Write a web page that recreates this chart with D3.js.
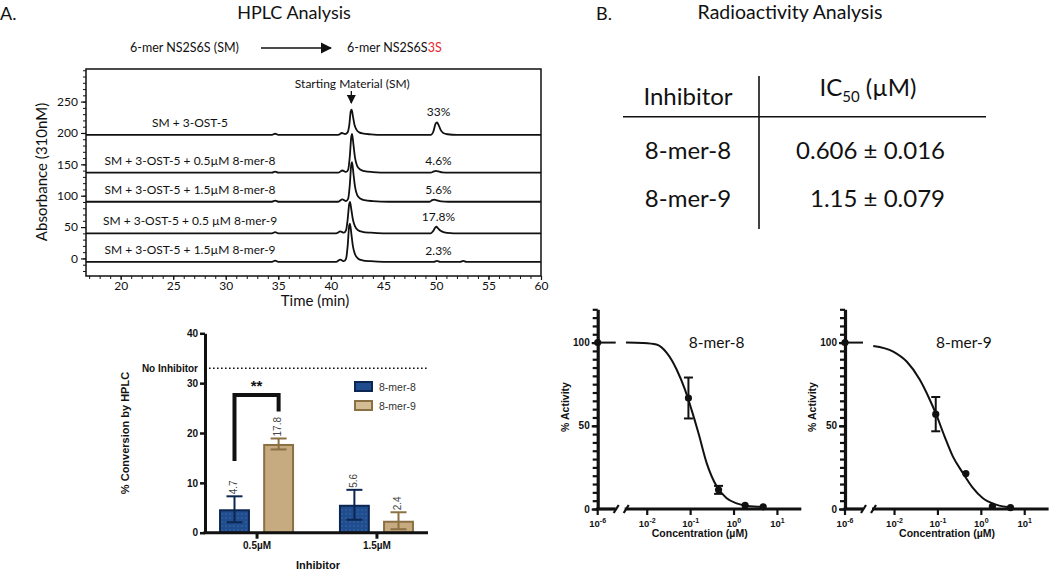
<!DOCTYPE html>
<html><head><meta charset="utf-8">
<script src="https://cdn.jsdelivr.net/npm/d3@7"></script>
<style>body{margin:0;background:#fff} svg{display:block}</style>
</head><body>
<svg id="c" width="1050" height="570"></svg>
<script>
// ---------------- DATA ----------------
// HPLC chromatograms: [time (min), absorbance above trace baseline]
const hplcTimeTicks = [20, 25, 30, 35, 40, 45, 50, 55, 60];
const hplcAbsTicks = [0, 50, 100, 150, 200, 250];
const traceLabels = ["SM + 3-OST-5", "SM + 3-OST-5 + 0.5µM 8-mer-8", "SM + 3-OST-5 + 1.5µM 8-mer-8",
  "SM + 3-OST-5 + 0.5 µM 8-mer-9", "SM + 3-OST-5 + 1.5µM 8-mer-9"];
const traceBaselines = [197, 136.7, 90.4, 40, -5.4];
const tracePercents = ["33%", "4.6%", "5.6%", "17.8%", "2.3%"];
const trace1 = [[16.7,0],[34.4,0],[34.7,1.8],[35.0,0],[40.7,0],[41.05,3],[41.35,1.2],[41.6,4],[41.75,15],[41.9,38],[41.98,40],[42.1,30],[42.25,16],[42.45,8],[42.7,4],[43.1,2],[43.8,0.8],[45,0],[49.5,0],[49.75,5],[49.95,17],[50.1,20],[50.25,16],[50.45,8],[50.7,3],[51.1,1],[52,0],[60,0]];
const trace2 = [[16.7,0],[34.4,0],[34.7,1.8],[35.0,0],[40.7,0],[41.1,3.5],[41.45,1.2],[41.65,5],[41.8,25],[41.95,58],[42.02,62],[42.15,45],[42.3,24],[42.5,11],[42.8,5],[43.2,2.5],[44,1],[45.5,0],[49.5,0],[49.8,2],[50.0,2.8],[50.25,2],[50.6,0.5],[51.2,0],[60,0]];
const trace3 = [[16.7,0],[34.4,0],[34.7,1.8],[35.0,0],[40.7,0],[41.1,3.8],[41.45,1.2],[41.65,5],[41.8,26],[41.95,60],[42.02,63],[42.15,45],[42.3,24],[42.5,11],[42.8,5],[43.2,2.5],[44,1],[45.5,0],[49.4,0],[49.65,2.5],[49.85,3.2],[50.1,2],[50.5,0.5],[51.2,0],[60,0]];
const trace4 = [[16.7,0],[34.4,0],[34.7,1.8],[35.0,0],[40.5,0],[40.9,3],[41.25,1],[41.45,5],[41.6,22],[41.75,47],[41.82,50],[41.95,38],[42.1,22],[42.3,11],[42.6,5],[43,2.5],[43.8,1],[45,0],[49.5,0],[49.75,4],[49.95,9.5],[50.05,10.5],[50.2,8],[50.45,4],[50.8,1.5],[51.4,0.3],[52,0],[60,0]];
const trace5 = [[16.7,0],[34.4,0],[34.7,1.8],[35.0,0],[40.5,0],[40.9,3.5],[41.25,1],[41.45,5],[41.6,25],[41.75,58],[41.82,61],[41.95,45],[42.1,25],[42.3,12],[42.6,5],[43,2.5],[43.8,1],[45,0],[49.8,0],[50.1,1.5],[50.4,0],[52.3,0],[52.6,1.5],[52.9,0],[60,0]];
const smPeakTime = 41.95;

// Bar chart: % conversion by HPLC
const barCategories = ["0.5µM", "1.5µM"];
const barSeries = ["8-mer-8", "8-mer-9"];
const conv8mer8 = [4.7, 5.6];
const conv8mer8Err = [2.6, 3.0];
const conv8mer9 = [17.8, 2.4];
const conv8mer9Err = [1.1, 1.7];
const noInhibitorValue = 33;
const barYTicks = [0, 10, 20, 30, 40];
const sigBracket = {category: "0.5µM", left: 14.4, top: 27.6, right: 24.3, label: "**"};

// IC50 table
const tableInhibitors = ["8-mer-8", "8-mer-9"];
const ic50 = ["0.606", "1.15"];
const ic50Err = ["0.016", "0.079"];

// Dose response
const doseConc = [1e-6, 0.089, 0.44, 1.8, 4.7];
const act8mer8 = [100, 66.7, 11.5, 2.2, 1.3];
const act8mer8Err = [0, 12.3, 2.4, 0, 0];
const act8mer9 = [100, 57, 21.3, 1.6, 0.8];
const act8mer9Err = [0, 10.3, 0, 0, 0];
const fit8mer8Log = [-2.49, -2.1, -1.79, -1.55, -1.32, -1.13, -0.98, -0.82, -0.63, -0.40, -0.17, 0.06, 0.29, 0.68];
const fit8mer8Act = [100, 99.7, 98.8, 93.8, 83.7, 71.7, 59.7, 45.7, 27.6, 13.6, 6.4, 3.4, 2.0, 1.2];
const fit8mer9Log = [-2.49, -2.03, -1.72, -1.42, -1.19, -1.04, -0.85, -0.66, -0.43, -0.20, 0.03, 0.34, 0.72];
const fit8mer9Act = [98, 94.6, 88.6, 77.8, 65.8, 56.8, 43.8, 31.8, 21.8, 12.8, 6.6, 2.6, 0.8];
const doseXTickExp = [-6, -2, -1, 0, 1];
const doseYTicks = [0, 50, 100];

// ---------------- DRAW ----------------
const svg = d3.select("#c");
const LATO = "Lato, 'Open Sans', sans-serif";
const ARIAL = "'Liberation Sans', Arial, sans-serif";

function txt(g, x, y, s, size, opts = {}) {
  return g.append("text").attr("x", x).attr("y", y).text(s)
    .attr("font-family", opts.family || LATO).attr("font-size", size)
    .attr("font-weight", opts.weight || "normal")
    .attr("text-anchor", opts.anchor || "start")
    .attr("fill", opts.fill || "#111");
}

// Titles
txt(svg, 0, 20, "A.", 18);
txt(svg, 294, 19, "HPLC Analysis", 18, {anchor: "middle"});
txt(svg, 596, 20, "B.", 18);
txt(svg, 790, 19, "Radioactivity Analysis", 19.5, {anchor: "middle"});

// ---------- HPLC ----------
const hx = d3.scaleLinear().domain([16.7, 60]).range([86, 541]);
const hy = d3.scaleLinear().domain([-28, 302]).range([276, 69]);
const gH = svg.append("g");

// reaction scheme
txt(gH, 130, 52, "6-mer NS2S6S (SM)", 12.5);
gH.append("defs").append("marker").attr("id", "ah").attr("viewBox", "0 0 10 10")
  .attr("refX", 9).attr("refY", 5).attr("markerWidth", 7).attr("markerHeight", 7).attr("orient", "auto")
  .append("path").attr("d", "M0,0 L10,5 L0,10 z").attr("fill", "#111");
gH.append("line").attr("x1", 261).attr("x2", 331).attr("y1", 48).attr("y2", 48)
  .attr("stroke", "#111").attr("stroke-width", 1.6).attr("marker-end", "url(#ah)");
const sch = txt(gH, 347, 52, "6-mer NS2S6S", 12.5);
sch.append("tspan").text("3S").attr("fill", "#e8262b");

function styleAxis(g, sw) {
  g.select(".domain").remove();
  g.selectAll(".tick line").attr("stroke", "#111").attr("stroke-width", sw);
}
const hb1 = gH.append("g").attr("transform", "translate(0,276)")
  .call(d3.axisBottom(hx).tickValues(d3.range(17, 61, 1)).tickSize(3).tickFormat(""));
styleAxis(hb1, 1);
const hb2 = gH.append("g").attr("transform", "translate(0,276)")
  .call(d3.axisBottom(hx).tickValues(hplcTimeTicks).tickSize(4).tickPadding(1));
styleAxis(hb2, 1.2);
hb2.selectAll("text").attr("font-family", LATO).attr("font-size", 12).attr("fill", "#111");
const hl1 = gH.append("g").attr("transform", "translate(86,0)")
  .call(d3.axisLeft(hy).tickValues(d3.range(-20, 301, 10)).tickSize(3).tickFormat(""));
styleAxis(hl1, 1);
const hl2 = gH.append("g").attr("transform", "translate(86,0)")
  .call(d3.axisLeft(hy).tickValues(hplcAbsTicks).tickSize(5).tickPadding(3));
styleAxis(hl2, 1.2);
hl2.selectAll("text").attr("font-family", LATO).attr("font-size", 12).attr("fill", "#111");
gH.append("rect").attr("x", hx(16.7)).attr("y", hy(302)).attr("width", hx(60) - hx(16.7))
  .attr("height", hy(-28) - hy(302)).attr("fill", "none").attr("stroke", "#111").attr("stroke-width", 1.5);

const traces = [trace1, trace2, trace3, trace4, trace5];
const tline = d3.line().curve(d3.curveMonotoneX);
traces.forEach((tr, i) => {
  const b = traceBaselines[i];
  gH.append("path").attr("d", tline(tr.map(p => [hx(p[0]), hy(b + p[1])])))
    .attr("fill", "none").attr("stroke", "#111").attr("stroke-width", 1.8);
  txt(gH, hx(26.6), hy(b) - 8, traceLabels[i], 12, {anchor: "middle"});
  const prodMax = d3.max(tr.filter(p => p[0] > 49 && p[0] < 51.5), p => p[1]);
  txt(gH, hx(50.25), hy(b + prodMax) - 6, tracePercents[i], 12, {anchor: "middle"});
});
txt(gH, hx(smPeakTime) + 1, 88, "Starting Material (SM)", 12, {anchor: "middle"});
gH.append("line").attr("x1", hx(smPeakTime)).attr("x2", hx(smPeakTime)).attr("y1", 91).attr("y2", 103)
  .attr("stroke", "#111").attr("stroke-width", 1.3).attr("marker-end", "url(#ah)");
txt(gH, 0, 0, "Absorbance (310nM)", 15, {anchor: "middle"}).attr("transform", "translate(47,172) rotate(-90)");
txt(gH, 315, 306, "Time (min)", 15, {anchor: "middle"});

// ---------- BAR CHART ----------
const gB = svg.append("g");
const bx = d3.scalePoint().domain(barCategories).range([205, 428]).padding(0.43);
const bs = d3.scaleBand().domain(barSeries).range([-37.5, 37.5]).paddingInner(0.3);
const by = d3.scaleLinear().domain([0, 40]).range([532.7, 333.3]);
const defs = svg.append("defs");
const pat = defs.append("pattern").attr("id", "dots").attr("width", 4).attr("height", 4).attr("patternUnits", "userSpaceOnUse");
pat.append("rect").attr("width", 4).attr("height", 4).attr("fill", "#204d8e");
pat.append("circle").attr("cx", 2).attr("cy", 2).attr("r", 0.8).attr("fill", "#3c69aa");
const seriesFill = {"8-mer-8": "url(#dots)", "8-mer-9": "#c6ab80"};
const seriesEdge = {"8-mer-8": "#0c2652", "8-mer-9": "#8a7043"};
const seriesVals = {"8-mer-8": [conv8mer8, conv8mer8Err], "8-mer-9": [conv8mer9, conv8mer9Err]};

// no inhibitor line
gB.append("line").attr("x1", 205).attr("x2", 427).attr("y1", by(noInhibitorValue)).attr("y2", by(noInhibitorValue))
  .attr("stroke", "#111").attr("stroke-width", 1.6).attr("stroke-dasharray", "1.6,2.4");
txt(gB, 198, by(noInhibitorValue) + 3.5, "No Inhibitor", 10, {family: ARIAL, weight: "bold", anchor: "end"});

barSeries.forEach(s => {
  const [vals, errs] = seriesVals[s];
  barCategories.forEach((c, i) => {
    const v = vals[i], e = errs[i];
    const x0 = bx(c) + bs(s), w = bs.bandwidth(), cx = x0 + w / 2;
    gB.append("rect").attr("x", x0 + 1).attr("y", by(v) + 1).attr("width", w - 2).attr("height", by(0) - by(v) - 1)
      .attr("fill", seriesFill[s]).attr("stroke", seriesEdge[s]).attr("stroke-width", 2);
    const eg = gB.append("g").attr("stroke", seriesEdge[s]).attr("stroke-width", 2);
    eg.append("line").attr("x1", cx).attr("x2", cx).attr("y1", by(v - e)).attr("y2", by(v + e));
    eg.append("line").attr("x1", cx - 8).attr("x2", cx + 8).attr("y1", by(v + e)).attr("y2", by(v + e));
    eg.append("line").attr("x1", cx - 8).attr("x2", cx + 8).attr("y1", by(v - e)).attr("y2", by(v - e));
    txt(gB, 0, 0, String(v), 10, {family: ARIAL, fill: "#444"})
      .attr("dominant-baseline", "middle")
      .attr("transform", `translate(${cx},${by(v + e) - 2}) rotate(-90)`);
  });
});
// significance bracket
{
  const c = sigBracket.category;
  const xl = bx(c) + bs(barSeries[0]) + bs.bandwidth() / 2;
  const xr = bx(c) + bs(barSeries[1]) + bs.bandwidth() / 2;
  gB.append("path").attr("d", `M${xl},${by(sigBracket.left)}V${by(sigBracket.top)}H${xr}V${by(sigBracket.right)}`)
    .attr("fill", "none").attr("stroke", "#111").attr("stroke-width", 4);
  txt(gB, (xl + xr) / 2, by(sigBracket.top) - 4, sigBracket.label, 15, {family: ARIAL, weight: "bold", anchor: "middle"});
}
// axes
const bya = gB.append("g").attr("transform", "translate(205,0)")
  .call(d3.axisLeft(by).tickValues(barYTicks).tickSize(5).tickSizeOuter(0).tickPadding(2));
bya.select(".domain").attr("stroke", "#111").attr("stroke-width", 3);
bya.selectAll(".tick line").attr("stroke", "#111").attr("stroke-width", 2.5);
bya.selectAll("text").attr("font-family", ARIAL).attr("font-weight", "bold").attr("font-size", 10).attr("fill", "#111");
const bxa = gB.append("g").attr("transform", `translate(0,${by(0)})`)
  .call(d3.axisBottom(bx).tickSize(6).tickSizeOuter(0).tickPadding(3));
bxa.select(".domain").attr("stroke", "#111").attr("stroke-width", 3).attr("d", "M203.5,0H428");
bxa.selectAll(".tick line").attr("stroke", "#111").attr("stroke-width", 3);
bxa.selectAll("text").attr("font-family", ARIAL).attr("font-weight", "bold").attr("font-size", 10).attr("fill", "#111");
txt(gB, 0, 0, "% Conversion by HPLC", 11, {family: ARIAL, weight: "bold", anchor: "middle"})
  .attr("transform", "translate(129,433) rotate(-90)");
txt(gB, 318, 569, "Inhibitor", 11, {family: ARIAL, weight: "bold", anchor: "middle"});
// legend
barSeries.forEach((s, i) => {
  const ly = 382 + i * 19;
  gB.append("rect").attr("x", 355).attr("y", ly).attr("width", 17).attr("height", 9)
    .attr("fill", i === 0 ? "#204d8e" : "#d4bd94").attr("stroke", seriesEdge[s]).attr("stroke-width", 2);
  txt(gB, 379, ly + 8.5, s, 10.5, {family: ARIAL, fill: "#333"});
});

// ---------- TABLE ----------
const gT = svg.append("g");
gT.append("line").attr("x1", 759).attr("x2", 759).attr("y1", 76).attr("y2", 229).attr("stroke", "#111").attr("stroke-width", 1.6);
gT.append("line").attr("x1", 623).attr("x2", 986).attr("y1", 116.7).attr("y2", 116.7).attr("stroke", "#111").attr("stroke-width", 1.6);
txt(gT, 688, 105, "Inhibitor", 24, {anchor: "middle"});
const ict = txt(gT, 868, 96, "IC", 24, {anchor: "middle"});
ict.append("tspan").text("50").attr("font-size", 15).attr("dy", 6);
ict.append("tspan").text(" (µM)").attr("dy", -6);
tableInhibitors.forEach((n, i) => {
  const y = 159 + i * 47.5;
  txt(gT, 688, y, n, 24, {anchor: "middle"});
  txt(gT, 945, y, `${ic50[i]} ± ${ic50Err[i]}`, 24, {anchor: "end"});
});

// ---------- DOSE RESPONSE ----------
function dosePanel(x0, name, act, err, fitLog, fitAct) {
  const g = svg.append("g");
  const yd = d3.scaleLinear().domain([0, 120]).range([509, 309.3]);
  const xd = d3.scaleLog().domain([Math.pow(10, -2.45), Math.pow(10, 1.55)]).range([x0 + 30, x0 + 203.6]);
  const xPos = c => c < 1e-3 ? x0 : xd(c);
  // y axis
  const ya1 = g.append("g").attr("transform", `translate(${x0},0)`)
    .call(d3.axisLeft(yd).tickValues(d3.range(0, 121, 5)).tickSize(5).tickFormat(""));
  ya1.select(".domain").remove();
  ya1.selectAll(".tick line").attr("stroke", "#111").attr("stroke-width", 2.2);
  const ya2 = g.append("g").attr("transform", `translate(${x0},0)`)
    .call(d3.axisLeft(yd).tickValues(doseYTicks).tickSize(6).tickSizeOuter(0).tickPadding(2));
  ya2.select(".domain").attr("stroke", "#111").attr("stroke-width", 3.2);
  ya2.selectAll(".tick line").attr("stroke", "#111").attr("stroke-width", 2.2);
  ya2.selectAll("text").attr("font-family", ARIAL).attr("font-weight", "bold").attr("font-size", 10).attr("fill", "#111");
  // x axis with break
  g.append("line").attr("x1", x0 - 1.5).attr("x2", x0 + 18).attr("y1", yd(0)).attr("y2", yd(0)).attr("stroke", "#111").attr("stroke-width", 3.2);
  g.append("line").attr("x1", x0 + 27).attr("x2", x0 + 203.6).attr("y1", yd(0)).attr("y2", yd(0)).attr("stroke", "#111").attr("stroke-width", 3.2);
  [16, 26].forEach(o => g.append("line").attr("x1", x0 + o).attr("x2", x0 + o + 5).attr("y1", yd(0) + 4).attr("y2", yd(0) - 4)
    .attr("stroke", "#111").attr("stroke-width", 2.2));
  doseXTickExp.forEach(e => {
    const x = xPos(Math.pow(10, e));
    g.append("line").attr("x1", x).attr("x2", x).attr("y1", yd(0)).attr("y2", yd(0) + 6).attr("stroke", "#111").attr("stroke-width", 2.2);
    const t = txt(g, x, yd(0) + 18, "10", 9.5, {family: ARIAL, weight: "bold", anchor: "middle"});
    t.append("tspan").text(String(e)).attr("font-size", 7).attr("dy", -4);
  });
  // fit curve
  const pts = fitLog.map((l, i) => [xd(Math.pow(10, l)), yd(fitAct[i])]);
  g.append("path").attr("d", d3.line().curve(d3.curveMonotoneX)(pts)).attr("fill", "none").attr("stroke", "#111").attr("stroke-width", 2);
  g.append("line").attr("x1", xPos(doseConc[0])).attr("x2", x0 + 18).attr("y1", yd(act[0])).attr("y2", yd(act[0]))
    .attr("stroke", "#111").attr("stroke-width", 2);
  // points & errors
  doseConc.forEach((c, i) => {
    const x = xPos(c);
    if (err[i] > 0) {
      const eg = g.append("g").attr("stroke", "#111").attr("stroke-width", 2);
      eg.append("line").attr("x1", x).attr("x2", x).attr("y1", yd(act[i] - err[i])).attr("y2", yd(act[i] + err[i]));
      [act[i] - err[i], act[i] + err[i]].forEach(v => eg.append("line").attr("x1", x - 4.5).attr("x2", x + 4.5).attr("y1", yd(v)).attr("y2", yd(v)));
    }
    g.append("circle").attr("cx", x).attr("cy", yd(act[i])).attr("r", 3.6).attr("fill", "#111");
  });
  txt(g, 0, 0, "% Activity", 10.5, {family: ARIAL, weight: "bold", anchor: "middle"})
    .attr("transform", `translate(${x0 - 29},407) rotate(-90)`);
  txt(g, x0 + 102, 537, "Concentration (µM)", 10.5, {family: ARIAL, weight: "bold", anchor: "middle"});
  txt(g, x0 + 119, 348, name, 15.5, {anchor: "middle"});
}
dosePanel(597.7, "8-mer-8", act8mer8, act8mer8Err, fit8mer8Log, fit8mer8Act);
dosePanel(845, "8-mer-9", act8mer9, act8mer9Err, fit8mer9Log, fit8mer9Act);
</script>
</body></html>
